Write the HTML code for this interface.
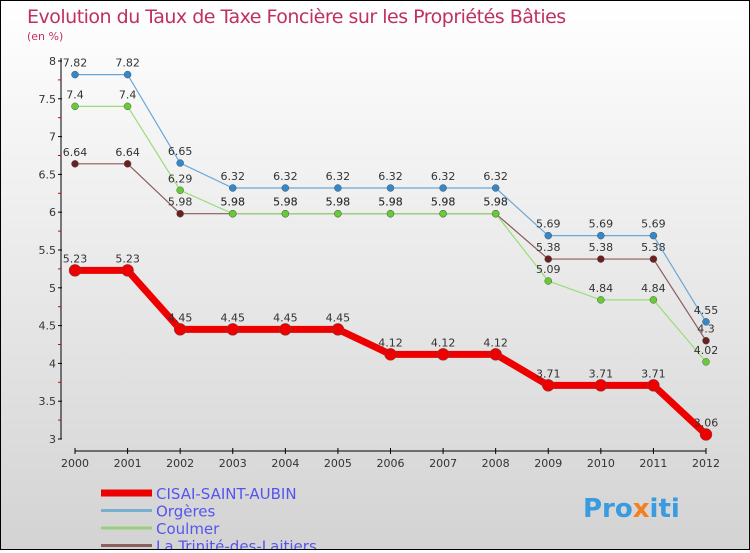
<!DOCTYPE html>
<html><head><meta charset="utf-8"><style>
html,body{margin:0;padding:0}
body{width:750px;height:550px;overflow:hidden;font-family:"DejaVu Sans","Liberation Sans",sans-serif}
#wrap{position:relative;width:748px;height:548px;border:1px solid #000;background:linear-gradient(#ffffff,#d3d3d3)}
svg text{font-family:"DejaVu Sans","Liberation Sans",sans-serif}
</style></head><body>
<div id="wrap">
<svg id="chart" width="748" height="548" xmlns="http://www.w3.org/2000/svg">
<text x="26" y="22" font-size="19" fill="#c0305e" style="letter-spacing:-0.5px">Evolution du Taux de Taxe Foncière sur les Propriétés Bâties</text>
<text x="26" y="39" font-size="11" fill="#c0305e">(en %)</text>
<g id="axes"></g><g id="series"></g><g id="legend"></g>
<text x="582" y="516" font-size="26" font-weight="bold" fill="#3a9be0">Pro<tspan fill="#f08020">x</tspan>iti</text>
</svg>
</div>
<script>
const years=[2000,2001,2002,2003,2004,2005,2006,2007,2008,2009,2010,2011,2012];
const yTicks=[3,3.5,4,4.5,5,5.5,6,6.5,7,7.5,8];
const names=["CISAI-SAINT-AUBIN","Orgères","Coulmer","La Trinité-des-Laitiers"];
const cisai=[5.23,5.23,4.45,4.45,4.45,4.45,4.12,4.12,4.12,3.71,3.71,3.71,3.06];
const orgeres=[7.82,7.82,6.65,6.32,6.32,6.32,6.32,6.32,6.32,5.69,5.69,5.69,4.55];
const coulmer=[7.4,7.4,6.29,5.98,5.98,5.98,5.98,5.98,5.98,5.09,4.84,4.84,4.02];
const trinite=[6.64,6.64,5.98,5.98,5.98,5.98,5.98,5.98,5.98,5.38,5.38,5.38,4.3];
const NS="http://www.w3.org/2000/svg";
function X(i){return 74+i*(705-74)/12;}
function Y(v){return 438-(v-3)*75.6;}
function mk(tag,attrs,parent){const e=document.createElementNS(NS,tag);for(const k in attrs)e.setAttribute(k,attrs[k]);parent.appendChild(e);return e;}
const ax=document.getElementById('axes');
let l=mk('line',{x1:60,y1:Y(8)-3,x2:60,y2:Y(3),stroke:'#000'},ax);


yTicks.forEach((v,i)=>{
 const t=mk('line',{x1:57,y1:Y(v),x2:61,y2:Y(v),stroke:'#000'},ax);
 
 
 if(i<yTicks.length-1){const m=mk('line',{x1:57,y1:Y(v+0.25),x2:60,y2:Y(v+0.25),stroke:'#d00'},ax);
 
 }
 const tx=mk('text',{x:55,y:Y(v)+4,'font-size':11,fill:'#333','text-anchor':'end'},ax);
 tx.textContent=String(v);
 
 
});
l=mk('line',{x1:X(0),y1:450,x2:X(12),y2:450,stroke:'#000'},ax);


years.forEach((y,i)=>{
 const t=mk('line',{x1:X(i),y1:447,x2:X(i),y2:453,stroke:'#000'},ax);
 
 
 const tx=mk('text',{x:X(i),y:466,'font-size':11,fill:'#333','text-anchor':'middle'},ax);
 tx.textContent=String(y);
 
 
});
const sg=document.getElementById('series');
function draw(vals,color,dot,w,r,key){
 const g=mk('g',{},sg);
 
 
 const p=mk('polyline',{points:vals.map((v,i)=>X(i)+','+Y(v)).join(' '),fill:'none',stroke:color,'stroke-width':w},g);
 
 
 vals.forEach((v,i)=>{
  const c=mk('circle',{cx:X(i),cy:Y(v),r:r,fill:dot,stroke:'#555','stroke-width':0.5},g);
  
  
  const t=mk('text',{x:X(i),y:Y(v)-8,'font-size':11,fill:'#333','text-anchor':'middle'},g);
  t.textContent=String(v);
  
  
 });
}
draw(trinite,'#8b5a5a','#6b2020',1.2,3.5,'trinite');
draw(coulmer,'#99dd77','#66cc33',1.2,3.5,'coulmer');
draw(orgeres,'#6aa7d8','#3388cc',1.2,3.5,'orgeres');
draw(cisai,'#ee0000','#ee0000',7,6,'cisai');
const lg=document.getElementById('legend');
const lc=[['#ee0000',7],['#7aaed0',3],['#99d080',3],['#8b6060',3]];
names.forEach((n,i)=>{
 const y=492+i*17.5;
 const r=mk('line',{x1:100,y1:y,x2:151,y2:y,stroke:lc[i][0],'stroke-width':lc[i][1]},lg);
 
 
 const t=mk('text',{x:155,y:y+6,'font-size':15,fill:'#5555ee'},lg);
 t.textContent=n;
 
 
});
</script>
</body></html>
